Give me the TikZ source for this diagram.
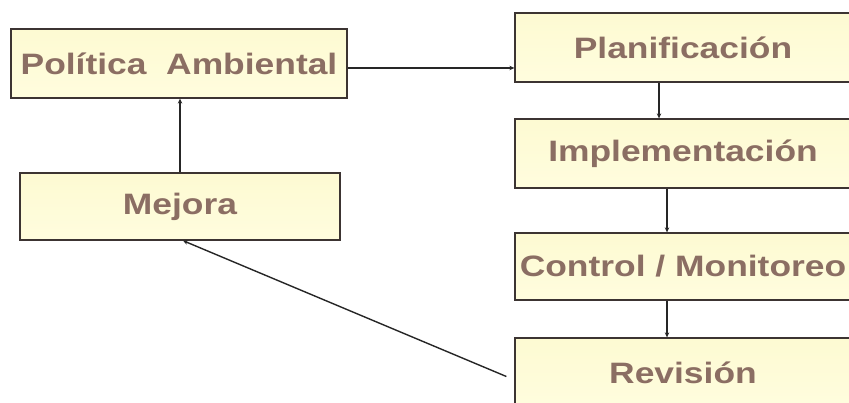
\documentclass[tikz,border=0pt]{standalone}
\usepackage{fontspec}
\setmainfont{Liberation Sans}
\usetikzlibrary{arrows.meta,calc}
\definecolor{boxfill}{RGB}{255,253,222}
\definecolor{boxfilltop}{RGB}{253,250,210}
\definecolor{boxline}{RGB}{60,52,50}
\definecolor{txtcol}{RGB}{139,110,99}
\newcommand{\boxtxt}[1]{\scalebox{1.2}[1]{#1}}
\tikzset{
  stagebox/.style={draw=boxline, line width=1.3pt, top color=boxfilltop, bottom color=boxfill,
    inner sep=0pt, font=\fontsize{29.5}{30}\selectfont\bfseries, text=txtcol},
  arr/.style={draw=black!85, line width=1.4pt, -{Stealth[length=5pt,width=4.5pt]}}
}
\begin{document}
\begin{tikzpicture}[x=1pt,y=-1pt]
\useasboundingbox (0,0) rectangle (849,403);
\clip (0,0) rectangle (849,403);
\fill[white] (0,0) rectangle (849,403);
\node[stagebox, minimum width=336pt, minimum height=69pt] (pol) at (179,63.5) {\boxtxt{Política \ Ambiental}};
\node[stagebox, minimum width=320pt, minimum height=67pt] (mej) at (180,206.5) {\boxtxt{Mejora}};
\node[stagebox, minimum width=336pt, minimum height=69pt] (plan) at (683,47.5) {\boxtxt{Planificación}};
\node[stagebox, minimum width=336pt, minimum height=69pt] (impl) at (683,153.5) {\boxtxt{Implementación}};
\node[stagebox, minimum width=336pt, minimum height=67pt] (ctrl) at (683,266.5) {\boxtxt{Control / Monitoreo}};
\node[stagebox, minimum width=336pt, minimum height=69pt] (rev) at (683,372.5) {\boxtxt{Revisión}};
\draw[arr] ([yshift=-4.5pt]pol.east) -- ([yshift=-4.5pt]pol.east -| plan.west);
\draw[arr] ([xshift=-24pt]plan.south) -- ([xshift=-24pt]impl.north);
\draw[arr] ([xshift=-16pt]impl.south) -- ([xshift=-16pt]ctrl.north);
\draw[arr] ([xshift=-16pt]ctrl.south) -- ([xshift=-16pt]rev.north);
\draw[arr] (mej.north) -- (mej.north |- pol.south);
\draw[arr] ([xshift=-8pt,yshift=-4pt]rev.west) -- ([xshift=3pt]mej.south);
\end{tikzpicture}
\end{document}
